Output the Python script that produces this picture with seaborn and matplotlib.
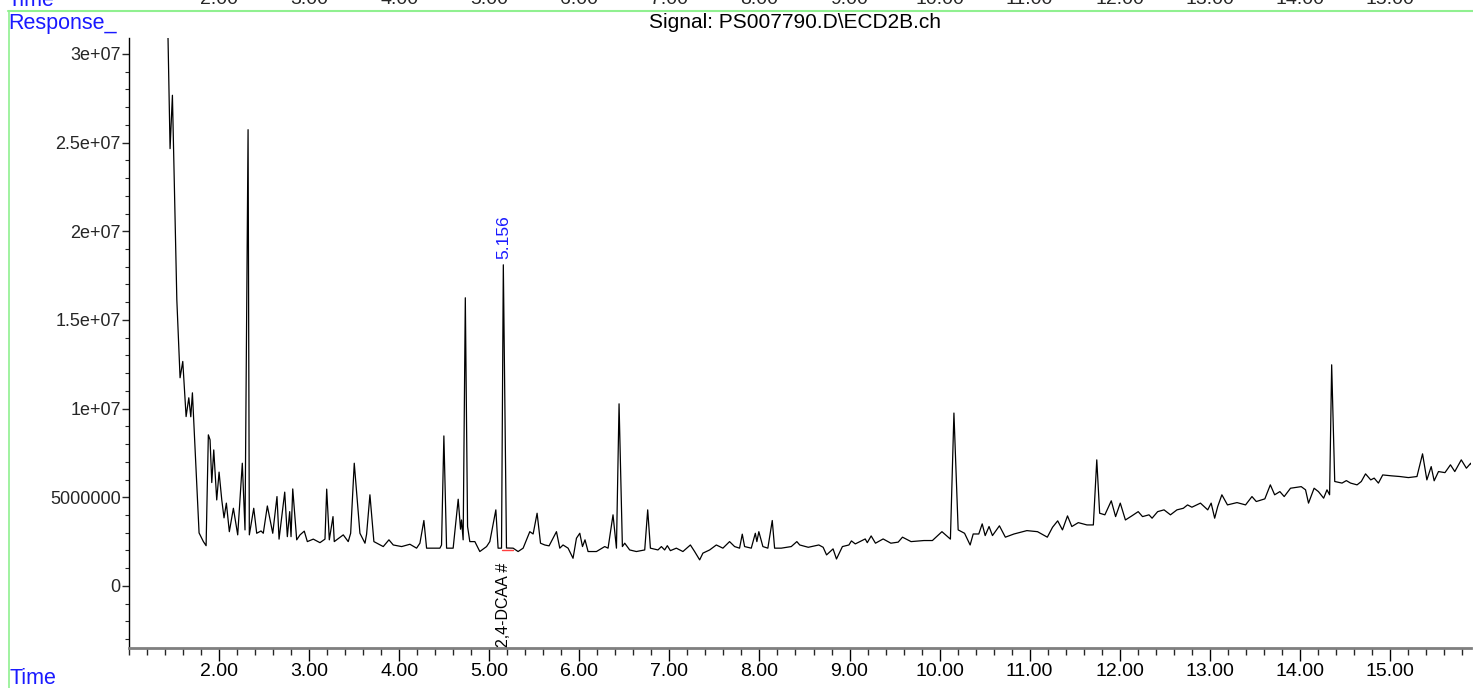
import numpy as np
import pandas as pd
import matplotlib
matplotlib.use("Agg")
import matplotlib.pyplot as plt
import matplotlib.ticker as mticker
from matplotlib.lines import Line2D
from matplotlib.transforms import blended_transform_factory
import seaborn as sns

# --- chromatogram trace (time in min, response in counts/1e6) ---
time_min = [
    1.420, 1.456, 1.482, 1.531, 1.567, 1.597, 1.634, 1.664, 1.686, 1.704,
    1.753, 1.778, 1.826, 1.856, 1.881, 1.900, 1.919, 1.941, 1.974, 2.000,
    2.030, 2.055, 2.081, 2.114, 2.159, 2.207, 2.258, 2.288, 2.322, 2.336,
    2.385, 2.418, 2.466, 2.491, 2.536, 2.596, 2.643, 2.666, 2.729, 2.758,
    2.784, 2.799, 2.818, 2.862, 2.899, 2.946, 2.980, 3.046, 3.120, 3.176,
    3.195, 3.224, 3.265, 3.279, 3.379, 3.434, 3.461, 3.501, 3.564, 3.620,
    3.638, 3.675, 3.719, 3.823, 3.886, 3.934, 4.027, 4.119, 4.193, 4.230,
    4.274, 4.304, 4.452, 4.470, 4.496, 4.526, 4.599, 4.655, 4.681, 4.692,
    4.710, 4.734, 4.759, 4.784, 4.840, 4.895, 4.970, 5.006, 5.073, 5.098,
    5.136, 5.156, 5.191, 5.265, 5.320, 5.376, 5.450, 5.487, 5.531, 5.569,
    5.616, 5.664, 5.746, 5.783, 5.819, 5.875, 5.930, 5.968, 6.005, 6.035,
    6.063, 6.097, 6.190, 6.282, 6.319, 6.374, 6.412, 6.441, 6.478, 6.504,
    6.559, 6.633, 6.726, 6.759, 6.789, 6.873, 6.911, 6.947, 6.977, 7.011,
    7.077, 7.150, 7.233, 7.280, 7.336, 7.372, 7.447, 7.521, 7.594, 7.668,
    7.724, 7.779, 7.809, 7.835, 7.909, 7.954, 7.971, 7.993, 8.038, 8.093,
    8.142, 8.168, 8.242, 8.353, 8.415, 8.447, 8.542, 8.659, 8.707, 8.745,
    8.817, 8.855, 8.921, 8.993, 9.021, 9.064, 9.174, 9.197, 9.240, 9.288,
    9.373, 9.459, 9.540, 9.588, 9.683, 9.826, 9.920, 10.026, 10.120, 10.159,
    10.206, 10.277, 10.339, 10.373, 10.435, 10.473, 10.506, 10.549, 10.587, 10.664,
    10.730, 10.826, 10.969, 11.087, 11.196, 11.254, 11.311, 11.364, 11.420, 11.468,
    11.540, 11.636, 11.707, 11.745, 11.777, 11.835, 11.906, 11.954, 12.006, 12.063,
    12.134, 12.205, 12.253, 12.325, 12.359, 12.421, 12.492, 12.563, 12.635, 12.706,
    12.753, 12.801, 12.896, 12.977, 13.015, 13.054, 13.088, 13.134, 13.196, 13.302,
    13.397, 13.468, 13.516, 13.611, 13.672, 13.720, 13.778, 13.826, 13.896, 14.015,
    14.063, 14.096, 14.158, 14.206, 14.264, 14.301, 14.330, 14.353, 14.387, 14.468,
    14.516, 14.563, 14.635, 14.682, 14.729, 14.787, 14.825, 14.872, 14.920, 15.015,
    15.111, 15.205, 15.300, 15.362, 15.410, 15.458, 15.491, 15.539, 15.611, 15.672,
    15.720, 15.792, 15.849, 15.897, 15.910,
]
response_m = [
    34.50, 24.66, 27.67, 16.14, 11.74, 12.66, 9.55, 10.61, 9.54, 10.89,
    5.60, 2.99, 2.50, 2.27, 8.52, 8.24, 5.83, 7.67, 4.85, 6.42,
    4.85, 3.84, 4.67, 3.06, 4.38, 2.88, 6.92, 3.16, 25.73, 2.88,
    4.38, 2.97, 3.10, 2.97, 4.51, 2.97, 5.04, 2.64, 5.29, 2.78,
    4.19, 2.78, 5.47, 2.60, 2.88, 3.09, 2.50, 2.64, 2.44, 2.64,
    5.46, 2.60, 3.91, 2.50, 2.88, 2.50, 2.97, 6.92, 2.97, 2.41,
    2.92, 5.14, 2.50, 2.22, 2.60, 2.31, 2.22, 2.35, 2.13, 2.41,
    3.69, 2.13, 2.13, 2.31, 8.46, 2.13, 2.13, 4.89, 3.20, 3.72,
    2.60, 16.25, 3.35, 2.50, 2.50, 1.94, 2.22, 2.50, 4.29, 2.13,
    2.13, 18.11, 2.14, 2.13, 1.94, 2.13, 3.06, 2.93, 4.10, 2.41,
    2.31, 2.26, 3.06, 2.13, 2.31, 2.13, 1.56, 2.69, 2.97, 2.22,
    2.60, 1.94, 1.94, 2.22, 2.13, 4.01, 2.13, 10.27, 2.22, 2.41,
    2.03, 1.94, 2.03, 4.29, 2.13, 2.03, 2.22, 2.03, 2.27, 1.99,
    2.13, 1.94, 2.31, 1.94, 1.47, 1.85, 2.03, 2.31, 2.13, 2.50,
    2.22, 2.13, 2.92, 2.22, 2.13, 2.97, 2.50, 3.06, 2.22, 2.13,
    3.69, 2.13, 2.13, 2.22, 2.50, 2.31, 2.18, 2.31, 2.18, 1.75,
    2.09, 1.52, 2.22, 2.31, 2.54, 2.37, 2.65, 2.44, 2.82, 2.41,
    2.65, 2.41, 2.47, 2.75, 2.50, 2.56, 2.56, 3.06, 2.64, 9.75,
    3.16, 2.97, 2.31, 2.93, 2.93, 3.50, 2.84, 3.35, 2.84, 3.39,
    2.75, 2.93, 3.12, 3.06, 2.75, 3.31, 3.67, 3.16, 3.95, 3.35,
    3.57, 3.44, 3.44, 7.11, 4.10, 4.01, 4.80, 3.91, 4.67, 3.72,
    3.95, 4.19, 3.91, 4.01, 3.82, 4.19, 4.29, 4.01, 4.29, 4.38,
    4.57, 4.44, 4.67, 4.29, 4.67, 3.82, 4.48, 5.14, 4.57, 4.70,
    4.57, 5.04, 4.76, 4.91, 5.70, 5.14, 5.32, 5.04, 5.51, 5.60,
    5.42, 4.67, 5.51, 5.32, 4.95, 5.42, 5.14, 12.47, 5.89, 5.80,
    5.94, 5.80, 5.70, 5.89, 6.32, 5.98, 6.08, 5.80, 6.26, 6.21,
    6.17, 6.11, 6.17, 7.45, 5.98, 6.73, 5.93, 6.45, 6.39, 6.83,
    6.45, 7.11, 6.64, 6.92, 6.77,
]

# integrated peak
peak_time = 5.156
peak_label = "5.156"
compound_name = "2,4-DCAA #"
baseline_time = [5.136, 5.258]
baseline_resp = [2.05e6, 2.05e6]

x_major = list(range(2, 16))
y_major = [0, 5e6, 1e7, 1.5e7, 2e7, 2.5e7, 3e7]
signal_title = "Signal: PS007790.D\\ECD2B.ch"


def fmt_response(v, pos):
    # report style: plain integers below 1e7, scientific above
    if abs(v) < 1e7:
        return "%d" % int(round(v))
    return "%g" % v


df = pd.DataFrame({"time": time_min, "response": np.array(response_m) * 1e6})

sns.set_style("ticks")
plt.rcParams["font.family"] = ["Liberation Sans", "DejaVu Sans"]

fig = plt.figure(figsize=(14.73, 6.88), dpi=100)
ax = fig.add_axes([129 / 1473, 40 / 688, 1342 / 1473, 610 / 688])

sns.lineplot(data=df, x="time", y="response", ax=ax, color="black", lw=0.9,
             estimator=None, sort=False)
sns.lineplot(x=baseline_time, y=baseline_resp, ax=ax, color="#ff4040", lw=1.0)

ax.set_xlim(1.0, 15.9)
ax.set_ylim(-3.5e6, 3.09e7)
ax.set_xlabel("")
ax.set_ylabel("")

ax.set_xticks(x_major)
ax.xaxis.set_major_formatter(mticker.FormatStrFormatter("%.2f"))
ax.xaxis.set_minor_locator(mticker.MultipleLocator(0.2))
ax.set_yticks(y_major)
ax.yaxis.set_major_formatter(mticker.FuncFormatter(fmt_response))
ax.yaxis.set_minor_locator(mticker.MultipleLocator(1e6))

ax.tick_params(axis="x", which="major", length=9, width=1, labelsize=14, pad=2, colors="black")
ax.tick_params(axis="x", which="minor", length=5, width=1)
ax.tick_params(axis="y", which="major", length=5, width=1, labelsize=13, pad=1)
ax.tick_params(axis="y", which="minor", length=3, width=0.8)

for s in ["top", "right"]:
    ax.spines[s].set_visible(False)
ax.spines["left"].set_color("black")
ax.spines["left"].set_linewidth(1)
ax.spines["bottom"].set_color("#7f7f7f")
ax.spines["bottom"].set_linewidth(2)

# peak annotations
peak_val = df.loc[df["time"] == peak_time, "response"].iloc[0]
ax.annotate(peak_label, xy=(peak_time, peak_val), xytext=(0, 4), textcoords="offset points",
            rotation=90, ha="center", va="bottom", color="#1a1aff", fontsize=12.5)
ax.annotate(compound_name, xy=(peak_time, ax.get_ylim()[0]), xytext=(0, 1),
            textcoords="offset points", rotation=90, ha="center", va="bottom",
            color="black", fontsize=11.5)

# frame decorations of the report page
green = "#90f090"
fig.add_artist(Line2D([8.5 / 1473, 8.5 / 1473], [0, 1 - 11 / 688], color=green, lw=1.2))
fig.add_artist(Line2D([8 / 1473, 1], [1 - 11 / 688, 1 - 11 / 688], color=green, lw=1.5))

fig.text(8 / 1473, 1 - 23 / 688, "Response_", color="#1a1aff", fontsize=15.5, ha="left", va="center")
fig.text(9 / 1473, 1 - 678 / 688, "Time", color="#1a1aff", fontsize=15.5, ha="left", va="center")
fig.text(795 / 1473, 1 - 23 / 688, signal_title, color="black", fontsize=15, ha="center", va="center")

# cut-off time axis of the panel above
top_tr = blended_transform_factory(ax.transData, fig.transFigure)
fig.text(8 / 1473, 1.0, "Time", color="#1a1aff", fontsize=15.5, ha="left", va="center")
for t in x_major:
    ax.text(t, 1.0, "%.2f" % t, transform=top_tr, fontsize=14, ha="center", va="center",
            clip_on=False)

fig.savefig("out.png", dpi=100)
